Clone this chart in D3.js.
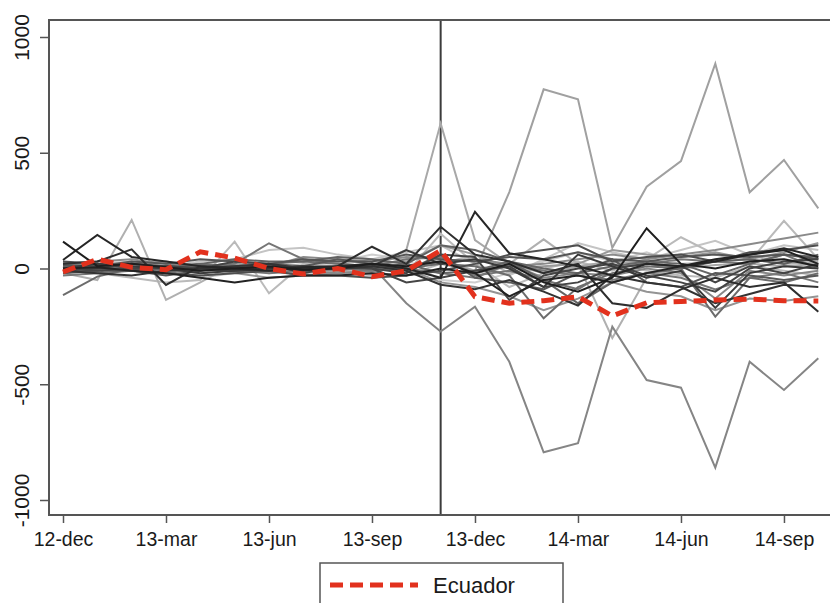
<!DOCTYPE html>
<html><head><meta charset="utf-8">
<script src="https://cdn.jsdelivr.net/npm/d3@7"></script>
<style>
body{margin:0;background:#fff}
text{font-family:"Liberation Sans",Arial,Helvetica,sans-serif;fill:#1a1a1a}
</style>
</head><body>
<svg id="chart" width="830" height="603"></svg>
<script>
// ---------- DATA ----------
const months = ["12-dec","13-jan","13-feb","13-mar","13-apr","13-may","13-jun","13-jul","13-aug","13-sep","13-oct","13-nov",
                "13-dec","14-jan","14-feb","14-mar","14-apr","14-may","14-jun","14-jul","14-aug","14-sep","14-oct"];
const tickMonths = ["12-dec","13-mar","13-jun","13-sep","13-dec","14-mar","14-jun","14-sep"];
const yTicks = [-1000,-500,0,500,1000];
const breakMonth = "13-nov";
const legendLabel = "Ecuador";

const ecuador = [-15,40,5,-5,72,45,0,-24,0,-35,-10,78,-122,-150,-139,-122,-205,-148,-143,-136,-132,-139,-140];

const s01 = [116,10,20,5,-10,0,10,-5,0,20,10,30,-20,20,-60,-100,-40,174,20,0,30,40,10];
const s02 = [37,145,50,30,10,0,-10,5,10,20,0,-40,245,66,40,10,-30,20,10,30,60,87,50];
const s03 = [20,30,83,-71,10,0,5,-10,10,94,20,180,60,30,-20,20,-150,-170,-90,-40,-80,-60,-187];
const s04 = [0,20,10,0,-20,-10,0,10,0,10,80,20,40,0,-80,60,10,-40,-10,-170,-20,10,0];
const s05 = [-10,0,20,10,0,30,20,-20,10,0,-20,60,50,-136,-30,0,20,-30,-60,-100,0,30,40];
const s06 = [30,20,0,-20,-30,-20,-10,-30,-30,-40,-30,-10,20,60,80,100,30,50,60,30,70,80,100];
const s07 = [-20,-10,-10,-30,-10,10,0,10,40,20,-10,60,-40,-60,-90,-20,40,-60,-80,-20,-30,-50,-30];
const s08 = [10,0,-10,0,20,40,30,30,50,40,20,100,80,30,-50,-150,-60,-20,0,30,40,20,60];
const s09 = [-115,-35,0,10,20,10,20,30,20,10,0,20,10,-30,-215,-80,-20,10,0,-208,-40,-60,-20];
const s10 = [0,10,0,0,10,20,109,40,20,10,40,50,-30,-10,-50,-90,0,20,40,30,20,60,0];
const s11 = [-5,0,5,-10,0,-5,5,0,-10,10,-150,-272,-165,-403,-794,-755,-251,-482,-515,-860,-403,-525,-388];
const s12 = [20,30,40,20,0,-10,10,50,40,30,50,40,-20,10,20,40,60,40,60,80,105,130,155];
const s13 = [0,-10,20,30,10,-20,-40,-30,-20,-10,0,-60,-80,-120,-180,-130,-60,-100,-120,-180,-130,-140,-120];
const s14 = [10,5,-5,0,10,5,0,5,-5,0,10,20,-10,330,774,731,90,353,464,885,329,469,260];
const s15 = [0,10,15,5,-10,20,10,5,0,15,80,627,123,20,-20,10,30,20,0,15,20,10,20];
const s16 = [-20,-50,210,-136,-60,20,-20,0,10,-10,0,40,-10,20,126,20,-300,-40,10,30,60,20,30];
const s17 = [10,-20,-40,-60,-50,116,-107,20,10,-20,-30,20,60,-20,0,30,-10,40,135,60,30,206,40];
const s18 = [0,20,30,10,30,40,80,90,60,40,70,100,20,-30,40,110,70,40,80,120,60,100,80];
const s19 = [30,0,-10,-20,-40,-20,0,20,30,60,40,-50,-60,-20,30,70,30,70,20,30,60,40,20];
const s20 = [0,5,-10,-20,-40,-60,-40,-30,-30,-20,-30,0,-20,-120,-50,-30,-60,-20,10,40,60,80,20];
const s21 = [-10,-20,-30,-10,0,10,20,0,0,10,-10,-70,-90,-50,-100,-160,-30,-60,-80,-150,-110,-70,-80];
const s22 = [15,10,30,20,40,30,20,40,30,30,60,40,30,50,40,70,40,30,50,60,50,60,40];
const s23 = [-30,-20,-10,-20,0,-10,-20,-10,0,-10,0,-20,-40,20,-10,-30,-50,-20,-40,-90,-40,-20,-60];
const s24 = [20,10,20,0,10,20,10,0,10,20,30,100,60,0,10,20,80,60,50,70,40,70,110];
const s25 = [-10,0,10,-10,-20,0,-10,-20,-10,-30,-20,150,20,-80,-20,10,30,-10,-30,-40,10,-10,-30];
const s26 = [0,-10,0,10,0,-10,0,10,5,0,-60,-40,-10,10,-80,-60,0,20,10,-60,10,-20,20];
const s27 = [5,0,-10,0,10,0,20,10,0,0,20,-20,-10,30,0,-20,10,30,20,-30,20,60,50];
const s28 = [-5,10,0,-10,0,10,0,-10,-20,-10,10,30,40,20,-40,-20,-30,0,-20,-130,-10,-30,-10];

const otherSeries = [s01,s02,s03,s04,s05,s06,s07,s08,s09,s10,s11,s12,s13,s14,s15,s16,s17,s18,s19,s20,s21,s22,s23,s24,s25,s26,s27,s28];
const otherShades = ["#1e1e1e","#262626","#2e2e2e","#3a3a3a","#444444","#4e4e4e","#585858","#626262","#6c6c6c","#767676",
                     "#858585","#8a8a8a","#949494","#a0a0a0","#a8a8a8","#b0b0b0","#bababa","#c4c4c4","#cecece","#222222",
                     "#333333","#555555","#777777","#999999","#bbbbbb","#444444","#666666","#888888"];

// ---------- CHART ----------
const svg = d3.select("#chart");
const frame = {left:49, top:20, right:845, bottom:515};
const x = d3.scalePoint().domain(months).range([63, 818.3]);
const y = d3.scaleLinear().domain([-1000, 1000]).range([500, 37]);
const axisColor = "#555";

// break line
svg.append("line")
  .attr("x1", x(breakMonth)).attr("x2", x(breakMonth))
  .attr("y1", frame.top).attr("y2", frame.bottom)
  .attr("stroke", "#3c3c3c").attr("stroke-width", 2);

const line = d3.line().x((d,i) => x(months[i])).y(d => y(d));

// draw lighter lines first, darker on top
const order = d3.range(otherSeries.length).sort((a,b) =>
  d3.hsl(otherShades[b]).l - d3.hsl(otherShades[a]).l);

svg.append("g").selectAll("path")
  .data(order)
  .join("path")
  .attr("d", k => line(otherSeries[k]))
  .attr("fill", "none")
  .attr("stroke", k => otherShades[k])
  .attr("stroke-width", 2)
  .attr("stroke-linejoin", "miter");

svg.append("path")
  .attr("d", line(ecuador))
  .attr("fill", "none")
  .attr("stroke", "#e2311d")
  .attr("stroke-width", 5)
  .attr("stroke-dasharray", "13,7");

// frame
svg.append("rect")
  .attr("x", frame.left).attr("y", frame.top)
  .attr("width", frame.right - frame.left).attr("height", frame.bottom - frame.top)
  .attr("fill", "none").attr("stroke", axisColor).attr("stroke-width", 2);

// y axis
const gy = svg.append("g").attr("transform", `translate(${frame.left},0)`)
  .call(d3.axisLeft(y).tickValues(yTicks).tickSize(9).tickFormat(d => String(d)));
gy.select(".domain").remove();
gy.selectAll("line").attr("stroke", axisColor).attr("stroke-width", 1.5);
gy.selectAll("text")
  .attr("x", null).attr("dy", null)
  .attr("transform", "translate(-20,0) rotate(-90)")
  .attr("text-anchor", "middle")
  .style("font-size", "21px")
  .style("font-family", "'Liberation Sans', Arial, sans-serif")
  .attr("fill", "#1a1a1a");

// x axis
const gx = svg.append("g").attr("transform", `translate(0,${frame.bottom})`)
  .call(d3.axisBottom(x).tickValues(tickMonths).tickSize(8));
gx.select(".domain").remove();
gx.selectAll("line").attr("stroke", axisColor).attr("stroke-width", 1.5);
gx.selectAll("text")
  .attr("y", 31).attr("dy", null)
  .style("font-size", "19.5px")
  .style("font-family", "'Liberation Sans', Arial, sans-serif")
  .attr("fill", "#1a1a1a");

// legend
const lg = svg.append("g");
lg.append("rect").attr("x", 320).attr("y", 563).attr("width", 243).attr("height", 70)
  .attr("fill", "#fff").attr("stroke", axisColor).attr("stroke-width", 1.5);
lg.append("line").attr("x1", 330).attr("x2", 418).attr("y1", 585).attr("y2", 585)
  .attr("stroke", "#e2311d").attr("stroke-width", 5).attr("stroke-dasharray", "13,7");
lg.append("text").attr("x", 433).attr("y", 593).text(legendLabel)
  .style("font-size", "22px");
</script>
</body></html>
